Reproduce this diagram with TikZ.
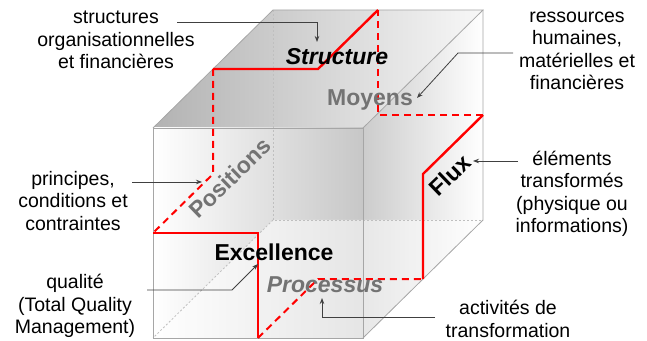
\documentclass[tikz,border=0pt]{standalone}
\usepackage{fontspec}
\setmainfont{Liberation Sans}
\usetikzlibrary{arrows.meta}

\tikzset{
  cubeedge/.style={draw=black!35,line width=0.8pt},
  hiddenedge/.style={draw=black!25,line width=0.8pt,dash pattern=on 2pt off 2pt},
  redline/.style={draw=red,line width=2.4pt,line join=miter},
  reddash/.style={draw=red,line width=2pt,dash pattern=on 7pt off 5pt},
  sidetext/.style={align=center,font=\fontsize{19.5}{22.5}\selectfont},
  facetext/.style={font=\fontsize{23}{27}\selectfont\bfseries},
  pointer/.style={draw=black!75,line width=0.8pt,-{Stealth[length=6pt,width=4.5pt]}},
}

\begin{document}
\begin{tikzpicture}[x=1pt,y=1pt]
\useasboundingbox (0,0) rectangle (647,340);
% cube: x to the right, y up, z to the back
\begin{scope}[shift={(153,2)},x={(105pt,0pt)},y={(0pt,105pt)},z={(60pt,59pt)}]
\coordinate (f00) at (0,0,0);
\coordinate (f20) at (2,0,0);
\coordinate (f22) at (2,2,0);
\coordinate (f02) at (0,2,0);
\coordinate (b00) at (0,0,2);
\coordinate (b20) at (2,0,2);
\coordinate (b22) at (2,2,2);
\coordinate (b02) at (0,2,2);
% path through the eight blocks
\coordinate (r1) at (0,1,0);
\coordinate (r2) at (1,1,0);
\coordinate (r3) at (1,0,0);
\coordinate (r4) at (1,0,1);
\coordinate (r5) at (2,0,1);
\coordinate (r6) at (2,1,1);
\coordinate (r7) at (2,1,2);
\coordinate (r8) at (1,1,2);
\coordinate (r9) at (1,2,2);
\coordinate (r10) at (1,2,1);
\coordinate (r11) at (0,2,1);
\coordinate (r12) at (0,1,1);
\end{scope}
% faces
\shade[left color=black!30,right color=black!3] (f02) -- (f22) -- (b22) -- (b02) -- cycle;
\shade[left color=black!20,right color=white] (f20) -- (b20) -- (b22) -- (f22) -- cycle;
\shade[left color=white,middle color=black!20,right color=black!22] (f00) -- (f20) -- (f22) -- (f02) -- cycle;
\fill[white,opacity=0.55] (f00) -- (f20) -- (b20) -- (b00) -- cycle;
% edges
\draw[hiddenedge] (b02) -- (b00) -- (b20);
\draw[hiddenedge] (b00) -- (f00);
\draw[cubeedge] (f00) -- (f20) -- (f22) -- (f02) -- cycle;
\draw[cubeedge] (f02) -- (b02) -- (b22) -- (f22);
\draw[cubeedge] (b22) -- (b20) -- (f20);
% red path
\draw[reddash] (r3) -- (r4) -- (r5);
\draw[reddash] (r7) -- (r8) -- (r9);
\draw[reddash] (r11) -- (r12) -- (r1);
\draw[redline] (r1) -- (r2) -- (r3);
\draw[redline] (r5) -- (r6) -- (r7);
\draw[redline] (r9) -- (r10) -- (r11);
% names on the cube
\node[facetext] (structure) at (337,283) {\itshape Structure};
\node[facetext,black!55] (moyens) at (370,240) {Moyens};
\node[facetext,black!55,rotate=44] (positions) at (230,162) {Positions};
\node[facetext,rotate=44] (flux) at (450,165) {Flux};
\node[facetext] (excellence) at (274,88) {Excellence};
\node[facetext,black!55] (processus) at (325,55) {\itshape Processus};
% side texts
\node[sidetext] (structures) at (116,300) {structures\\organisationnelles\\et financières};
\node[sidetext] (ressources) at (577,289) {ressources\\humaines,\\matérielles et\\financières};
\node[sidetext] (elements) at (572,146) {éléments\\transformés\\(physique ou\\informations)};
\node[sidetext] (principes) at (73,139) {principes,\\conditions et\\contraintes};
\node[sidetext] (qualite) at (75,34) {qualité\\(Total Quality\\Management)};
\node[sidetext] (activites) at (508,21) {activités de\\transformation};
% pointers
\coordinate (s1) at (177,318);
\coordinate (s2) at (317,298);
\draw[pointer] (s1) -- (s2 |- s1) -- (s2);
\coordinate (m1) at (513,287);
\coordinate (m2) at (458,287);
\coordinate (m3) at (417,242);
\draw[pointer] (m1) -- (m2) -- (m3);
\coordinate (e1) at (518,179);
\coordinate (e2) at (473,179);
\draw[pointer] (e1) -- (e2);
\coordinate (p1) at (132,158);
\coordinate (p2) at (202,158);
\draw[pointer] (p1) -- (p2);
\coordinate (q1) at (147,50);
\coordinate (q2) at (232,50);
\coordinate (q3) at (258,76);
\draw[pointer] (q1) -- (q2) -- (q3);
\coordinate (a1) at (435,23);
\coordinate (a2) at (322,42);
\draw[pointer] (a1) -- (a2 |- a1) -- (a2);
\end{tikzpicture}
\end{document}
